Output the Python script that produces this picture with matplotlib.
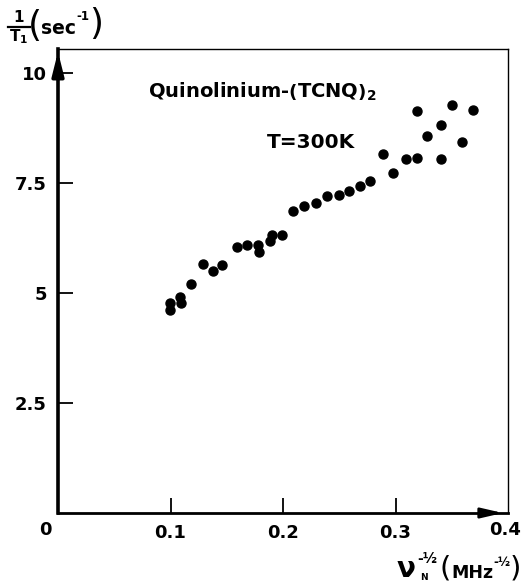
import numpy as np
import matplotlib.pyplot as plt
from matplotlib.lines import Line2D

plt.rcParams['font.family'] = ['DejaVu Sans']
plt.rcParams['font.weight'] = 'bold'
plt.rcParams['mathtext.fontset'] = 'custom'
plt.rcParams['mathtext.rm'] = 'DejaVu Sans:bold'
plt.rcParams['mathtext.it'] = 'DejaVu Sans:bold'
plt.rcParams['mathtext.bf'] = 'DejaVu Sans:bold'

# data
nu = [0.0996, 0.0996, 0.1085, 0.109, 0.118, 0.129, 0.138, 0.146, 0.159,
      0.168, 0.178, 0.179, 0.188, 0.190, 0.199, 0.209, 0.219, 0.229, 0.239,
      0.250, 0.259, 0.268, 0.277, 0.289, 0.298, 0.309, 0.319, 0.319, 0.328,
      0.340, 0.340, 0.350, 0.359, 0.369]
rate = [4.61, 4.77, 4.91, 4.77, 5.20, 5.66, 5.50, 5.64, 6.05,
        6.09, 6.09, 5.93, 6.18, 6.32, 6.32, 6.86, 6.98, 7.05, 7.20,
        7.23, 7.32, 7.43, 7.55, 8.16, 7.73, 8.05, 8.07, 9.14, 8.57,
        8.82, 8.05, 9.27, 8.43, 9.16]

xticks = [0.1, 0.2, 0.3]
xticklabels = ['0.1', '0.2', '0.3']
yticks = [2.5, 5, 7.5, 10]
yticklabels = ['2.5', '5', '7.5', '10']

W, H = 524, 582
def px(x, y):
    # pixel position (from top-left) -> figure fraction
    return x / W, 1 - y / H

fig = plt.figure(figsize=(W / 100, H / 100), dpi=100)
ax = fig.add_axes([58/W, 1 - 513/H, 450/W, 464/H])

ax.plot(nu, rate, 'o', color='black', markersize=6.5, clip_on=False)

ax.set_xlim(0, 0.4)
ax.set_ylim(0, 10.55)

ax.set_xticks(xticks)
ax.set_xticklabels(xticklabels)
ax.set_yticks(yticks)
ax.set_yticklabels(yticklabels)
ax.tick_params(direction='in', length=11, width=1.3, labelsize=13, color='black')
ax.tick_params(axis='x', pad=8)
ax.tick_params(axis='y', pad=8)

ax.spines['left'].set_linewidth(2.6)
ax.spines['bottom'].set_linewidth(2.0)
ax.spines['top'].set_linewidth(1.0)
ax.spines['right'].set_linewidth(1.0)

# arrow heads on the axes
ax.annotate('', xy=(0, 1.0), xytext=(0, 0.94), xycoords='axes fraction',
            arrowprops=dict(arrowstyle='-|>,head_length=1.4,head_width=0.35',
                            color='black', lw=2.6))
ax.annotate('', xy=(0.995, 0), xytext=(0.94, 0), xycoords='axes fraction',
            arrowprops=dict(arrowstyle='-|>,head_length=1.3,head_width=0.3',
                            color='black', lw=2.0))

# corner labels
fig.text(*px(45, 530), '0', fontsize=13, ha='center', va='center')
fig.text(*px(505, 530), '0.4', fontsize=13, ha='center', va='center')

# y axis title: 1/T1 (sec^-1)
fig.text(*px(19, 17), '1', fontsize=11, ha='center', va='center')
fig.add_artist(Line2D([8/W, 30/W], [1 - 27/H, 1 - 27/H], color='black', lw=1.6))
fig.text(*px(19, 37), r'$T_1$', fontsize=11, ha='center', va='center')
fig.text(*px(28, 26), '(', fontsize=26, fontweight='normal', ha='left', va='center')
fig.text(*px(41, 29), 'sec', fontsize=13.5, ha='left', va='center')
fig.text(*px(76, 16), '-1', fontsize=8.5, ha='left', va='center')
fig.text(*px(89, 24), ')', fontsize=26, fontweight='normal', ha='left', va='center')

# x axis title: nu_N^-1/2 (MHz^-1/2)
fig.text(*px(396, 569), r'$\nu$', fontsize=20, ha='left', va='center')
fig.text(*px(417, 559), '-½', fontsize=10, ha='left', va='center')
fig.text(*px(420, 578), 'N', fontsize=6.5, ha='left', va='center')
fig.text(*px(439, 569), '(', fontsize=21, fontweight='normal', ha='left', va='center')
fig.text(*px(451, 573), 'MHz', fontsize=12.5, ha='left', va='center')
fig.text(*px(493, 563), '-½', fontsize=8.5, ha='left', va='center')
fig.text(*px(510, 569), ')', fontsize=21, fontweight='normal', ha='left', va='center')

# annotations
fig.text(*px(148, 92), r'Quinolinium-$\left(\mathrm{TCNQ}\right)_2$',
         fontsize=14, ha='left', va='center')
fig.text(*px(267, 142), 'T=300K', fontsize=14.5, ha='left', va='center')

fig.savefig('out.png', dpi=100)
